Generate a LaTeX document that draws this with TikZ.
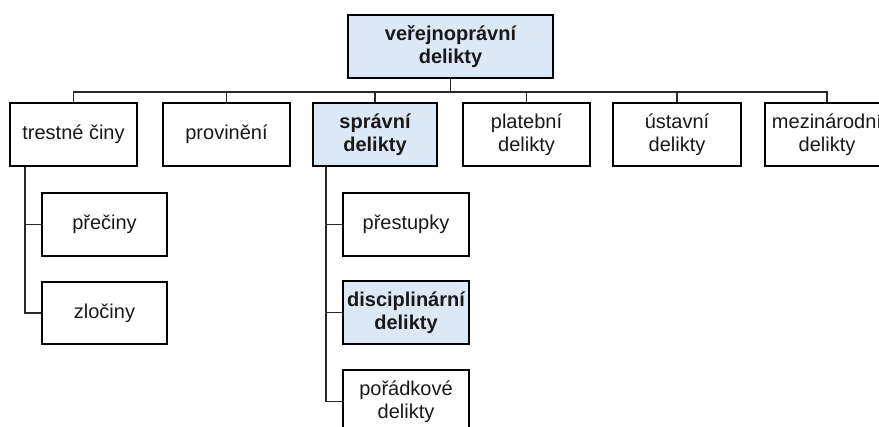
\documentclass[tikz,border=0pt]{standalone}
\usepackage{fontspec}
\setmainfont{Liberation Sans}
\definecolor{boxblue}{RGB}{220,232,245}
\definecolor{txt}{RGB}{25,25,25}
\definecolor{conn}{RGB}{40,40,40}
\begin{document}
\begin{tikzpicture}[x=1pt,y=-1pt,
  box/.style={draw=black,line width=2.8pt,fill=white,inner sep=0pt,align=center,
    text=txt,font=\fontsize{20}{23}\selectfont},
  hbox/.style={box,fill=boxblue,font=\fontsize{20}{23}\selectfont\bfseries},
  conline/.style={draw=conn,line width=1.5pt}]
\clip (0,0) rectangle (879,427);
\fill[white] (0,0) rectangle (879,427);
% top
\node[hbox,minimum width=205pt,minimum height=63pt] (top) at (450.5,46.5) {veřejnoprávní\\delikty};
% second row
\node[box,minimum width=127pt,minimum height=63pt] (c1) at (73.5,134.5) {trestné činy};
\node[box,minimum width=127pt,minimum height=63pt] (c2) at (226.5,134.5) {provinění};
\node[hbox,minimum width=124pt,minimum height=63pt] (c3) at (375,134.5) {správní\\delikty};
\node[box,minimum width=127pt,minimum height=63pt] (c4) at (526.5,134.5) {platební\\delikty};
\node[box,minimum width=128pt,minimum height=63pt] (c5) at (677,134.5) {ústavní\\delikty};
\node[box,minimum width=124pt,minimum height=63pt] (c6) at (827,134.5) {mezinárodní\\delikty};
% children of trestne ciny
\node[box,minimum width=125pt,minimum height=63pt] (d1) at (104.5,224.5) {přečiny};
\node[box,minimum width=125pt,minimum height=62pt] (d2) at (104.5,313) {zločiny};
% children of spravni delikty
\node[box,minimum width=126pt,minimum height=63pt] (e1) at (406,224.5) {přestupky};
\node[hbox,minimum width=126pt,minimum height=63pt] (e2) at (406,312.5) {disciplinární\\delikty};
\node[box,minimum width=126pt,minimum height=63pt] (e3) at (406,401.5) {pořádkové\\delikty};
% bus
\coordinate (bus) at (0,92);
\coordinate (va) at (25,0);
\coordinate (vb) at (326,0);
\draw[conline] (top.south) -- (top.south |- bus);
\draw[conline] (c1.north) -- (c1.north |- bus) -- (c6.north |- bus) -- (c6.north);
\draw[conline] (c2.north) -- (c2.north |- bus);
\draw[conline] (c3.north) -- (c3.north |- bus);
\draw[conline] (c4.north) -- (c4.north |- bus);
\draw[conline] (c5.north) -- (c5.north |- bus);
% child connectors
\draw[conline] (c1.south -| va) |- (d2.west);
\draw[conline] (va |- d1.west) -- (d1.west);
\draw[conline] (c3.south -| vb) |- (e3.west);
\draw[conline] (vb |- e1.west) -- (e1.west);
\draw[conline] (vb |- e2.west) -- (e2.west);
\end{tikzpicture}
\end{document}
